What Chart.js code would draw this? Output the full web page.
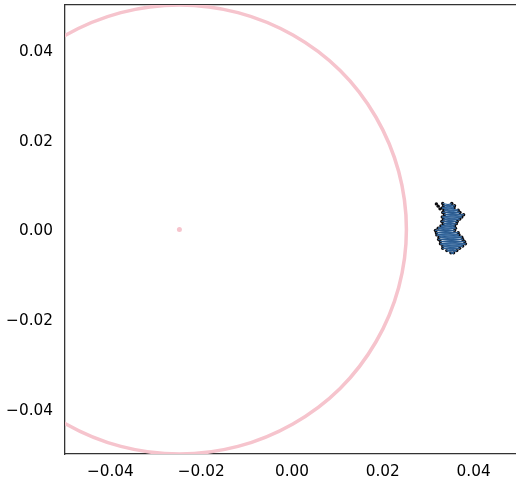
<!DOCTYPE html>
<html>
<head>
<meta charset="utf-8">
<style>
  html, body { margin: 0; padding: 0; background: #fff; overflow: hidden; }
</style>
<script src="https://cdn.jsdelivr.net/npm/chart.js@4"></script>
</head>
<body>
<canvas id="grafico" width="523" height="480"></canvas>
<script>
// tick positions, same on both axes
const tickValues = [-0.04, -0.02, 0, 0.02, 0.04];
const tickLabels = ['\u22120.04', '\u22120.02', '0.00', '0.02', '0.04'];

// pink ring, every 15 degrees, starts on the hidden left side
const ringX = [-0.0748, -0.0731, -0.0681, -0.0602, -0.0498, -0.0377, -0.0248, -0.0119, 0.0002, 0.0106, 0.0185, 0.0235, 0.0252,
  0.0235, 0.0185, 0.0106, 0.0002, -0.0119, -0.0248, -0.0377, -0.0498, -0.0602, -0.0681, -0.0731, -0.0748];
const ringY = [0, 0.0129, 0.025, 0.0354, 0.0433, 0.0483, 0.05, 0.0483, 0.0433, 0.0354, 0.025, 0.0129, 0,
  -0.0129, -0.025, -0.0354, -0.0433, -0.0483, -0.05, -0.0483, -0.0433, -0.0354, -0.025, -0.0129, 0];

// small dot in the middle of the ring
const centerX = [-0.0248];
const centerY = [0];

// dark cluster on the right: rows with a left and a right edge
const rowY = [0.0058, 0.0053, 0.0048, 0.0043, 0.0038, 0.0033, 0.0028, 0.0023, 0.0018, 0.0013, 0.0008, 0.0003,
  -0.0002, -0.0007, -0.0012, -0.0017, -0.0022, -0.0027, -0.0032, -0.0037, -0.0042, -0.0047, -0.0052];
const leftX = [0.0332, 0.0334, 0.0331, 0.0335, 0.0332, 0.0336, 0.0331, 0.0334, 0.033, 0.0333, 0.0328, 0.0322,
  0.0316, 0.0318, 0.0319, 0.0324, 0.0323, 0.0327, 0.0327, 0.0332, 0.0332, 0.0341, 0.035];
const rightX = [0.0352, 0.0358, 0.0357, 0.0366, 0.037, 0.0378, 0.0374, 0.0369, 0.0364, 0.0362, 0.0358, 0.036,
  0.0358, 0.0366, 0.0368, 0.0374, 0.0376, 0.038, 0.0382, 0.0376, 0.0369, 0.0363, 0.0356];

// stray dots left of the top of the cluster
const strayX = [0.0318, 0.0322, 0.0326];
const strayY = [0.0057, 0.0052, 0.0046];

const pink = '#f6c4cd';

const ringPoints = ringX.map((x, i) => ({ x: x, y: ringY[i] }));
const centerPoints = centerX.map((x, i) => ({ x: x, y: centerY[i] }));

// blue strands cross on a slant between the two edges
const strandPoints = [];
rowY.forEach((y, i) => {
  strandPoints.push({ x: leftX[i], y: y });
  const next = Math.min(i + 1, rowY.length - 1);
  strandPoints.push({ x: rightX[next], y: rowY[next] });
});
const strandBack = [];
rowY.forEach((y, i) => {
  strandBack.push({ x: rightX[i], y: y });
  const next = Math.min(i + 1, rowY.length - 1);
  strandBack.push({ x: leftX[next], y: rowY[next] });
});

const edgePoints = [];
rowY.forEach((y, i) => {
  edgePoints.push({ x: leftX[i], y: y });
  edgePoints.push({ x: rightX[i], y: y });
});
strayX.forEach((x, i) => edgePoints.push({ x: x, y: strayY[i] }));

const tickFont = { family: '"DejaVu Sans"', size: 15.3 };
const spine = { color: '#333', width: 1.3 };

function axisTicks(scale) {
  scale.ticks = tickValues.map(v => ({ value: v }));
}

function tickText(value) {
  const i = tickValues.findIndex(v => Math.abs(v - value) < 1e-9);
  return i >= 0 ? tickLabels[i] : '';
}

// empty first line pushes the y labels down a little, they sat high
function tickTextLow(value) {
  return ['', tickText(value)];
}

// no extra room for the outer tick labels, the frame sits on fixed margins
function noPadding(scale) {
  scale.paddingTop = 0;
  scale.paddingBottom = 0;
  scale.paddingLeft = 0;
  scale.paddingRight = 0;
}

const ctx = document.getElementById('grafico').getContext('2d');

new Chart(ctx, {
  type: 'scatter',
  data: {
    datasets: [
      {
        data: ringPoints,
        showLine: true,
        borderColor: pink,
        borderWidth: 3.5,
        pointRadius: 0,
        tension: 0.34,
        capBezierPoints: false
      },
      {
        data: centerPoints,
        pointRadius: 2.5,
        pointBorderWidth: 0,
        pointBackgroundColor: pink
      },
      {
        data: strandBack,
        showLine: true,
        borderColor: '#2a5a8f',
        borderWidth: 1,
        pointRadius: 0,
        tension: 0
      },
      {
        data: strandPoints,
        showLine: true,
        borderColor: '#4079b3',
        borderWidth: 1,
        pointRadius: 0,
        tension: 0
      },
      {
        data: edgePoints,
        pointRadius: 1.7,
        pointBorderWidth: 0,
        pointBackgroundColor: '#0b0b0f'
      }
    ]
  },
  options: {
    responsive: false,
    animation: false,
    layout: { padding: 0 },
    plugins: { legend: { display: false }, tooltip: { enabled: false } },
    scales: {
      x: {
        type: 'linear',
        position: 'bottom',
        min: -0.05,
        max: 0.05,
        afterBuildTicks: axisTicks,
        afterFit: scale => { scale.height = 26; noPadding(scale); },
        grid: { drawOnChartArea: false, drawTicks: false },
        border: spine,
        ticks: { font: tickFont, color: '#000', padding: 9, maxRotation: 0, autoSkip: false, callback: tickText }
      },
      top: {
        type: 'linear',
        position: 'top',
        min: -0.05,
        max: 0.05,
        afterFit: scale => { scale.height = 5; noPadding(scale); },
        grid: { display: false },
        border: spine,
        ticks: { display: false }
      },
      y: {
        type: 'linear',
        position: 'left',
        min: -0.05,
        max: 0.05,
        afterBuildTicks: axisTicks,
        afterFit: scale => { scale.width = 65; noPadding(scale); },
        grid: { drawOnChartArea: false, drawTicks: false },
        border: spine,
        ticks: {
          font: { family: tickFont.family, size: tickFont.size, lineHeight: 0.25 },
          color: '#000',
          padding: 12,
          autoSkip: false,
          callback: tickTextLow
        }
      }
    }
  }
});
</script>
</body>
</html>
